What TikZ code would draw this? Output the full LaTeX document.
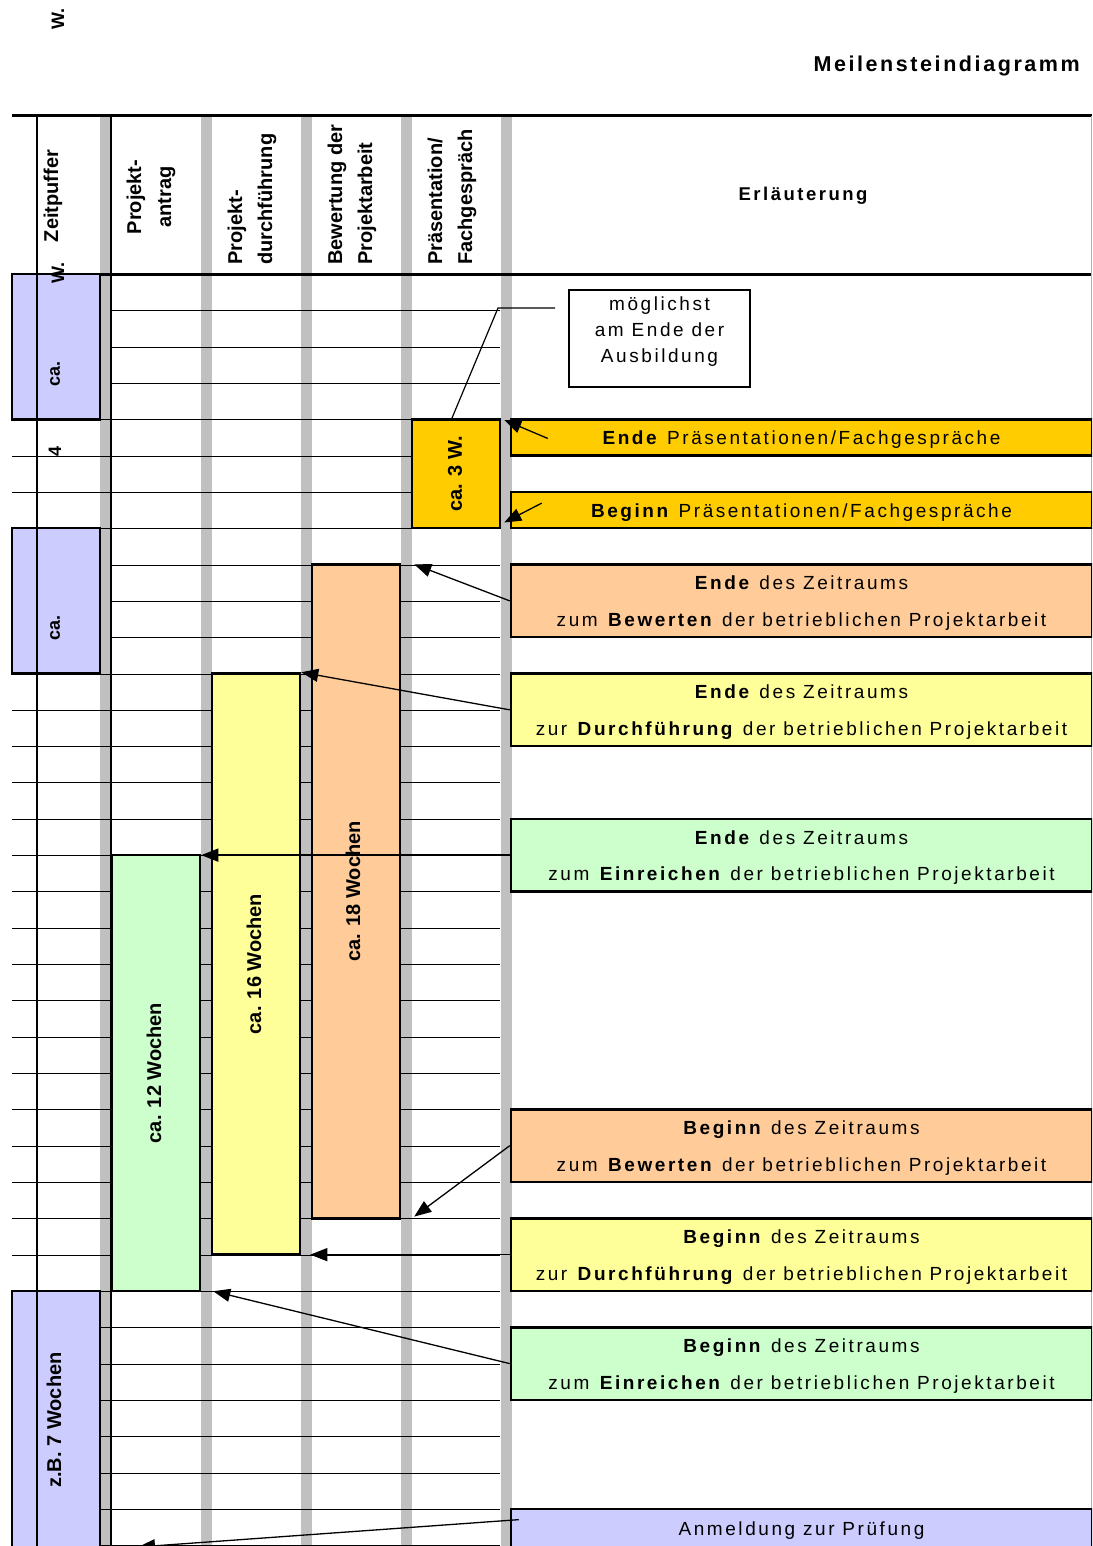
\documentclass[tikz,border=0pt]{standalone}
\usepackage{fontspec}
\setmainfont{Liberation Sans}
\newfontfamily\spacedfont[LetterSpace=13.5]{Liberation Sans}
\newfontfamily\titlefont[LetterSpace=12]{Liberation Sans}
\usetikzlibrary{arrows.meta,calc}
\definecolor{cblue}{HTML}{CCCCFF}
\definecolor{cgold}{HTML}{FFCC00}
\definecolor{corange}{HTML}{FFCC99}
\definecolor{cyellow}{HTML}{FFFF99}
\definecolor{cgreen}{HTML}{CCFFCC}
\definecolor{cgray}{HTML}{C0C0C0}
\begin{document}
\begin{tikzpicture}[x=1pt,y=-1pt,
  gridline/.style={line width=1.3pt},
  barbox/.style={draw, line width=2.5pt, inner sep=0pt, minimum width=88pt},
  barlabel/.style={rotate=90, inner sep=0pt, font=\bfseries\fontsize{20}{24}\selectfont},
  smalllabel/.style={rotate=90, inner sep=0pt, font=\bfseries\fontsize{18}{20}\selectfont},
  head/.style={rotate=90, inner sep=0pt, font=\bfseries\fontsize{20}{30}\selectfont},
  rbox/.style={draw, line width=2.5pt, minimum width=581pt, inner sep=0pt, align=center,
    font=\spacedfont\fontsize{19}{36.32}\selectfont},
  twoline/.style={rbox, minimum height=72.64pt},
  rtext/.style={inner sep=0pt, align=center, font=\spacedfont\fontsize{19}{26}\selectfont},
  arr/.style={line width=1.3pt, -{Triangle[length=17pt,width=13pt]}}
]
\useasboundingbox (0,0) rectangle (1092,1546);
\clip (0,0) rectangle (1092,1546);

% gray separator bars
\fill[cgray] (100,116) rectangle (110.5,1546);
\fill[cgray] (200.5,116) rectangle (212,1546);
\fill[cgray] (300.5,116) rectangle (312,1546);
\fill[cgray] (400.5,116) rectangle (412,1546);
\fill[cgray] (500.5,116) rectangle (512,1546);

% grid lines
\foreach \k in {1,2,3,8,9,10}{
  \pgfmathsetmacro\yy{round(274+\k*36.32)+0.5}
  \draw[gridline] (111,\yy) -- (500,\yy);}
\foreach \k in {4,5,6,7,11,12,...,35}{
  \pgfmathsetmacro\yy{round(274+\k*36.32)+0.5}
  \draw[gridline] (12,\yy) -- (500,\yy);}

% header frame
\draw[line width=3pt] (12,116) -- (1092,116);
\draw[line width=3pt] (12,274) -- (1092,274);
\draw[line width=1pt, gray!60] (1091.5,116) -- (1091.5,1546);
\draw[line width=2.6pt] (111,116) -- (111,1546);

% bars
\node[barbox, fill=cgold, minimum height=108.96pt] (ca3w) at (456,473.76) {};
\node[barbox, fill=corange, minimum height=653.76pt] (orange) at (356,891.44) {};
\node[barbox, fill=cyellow, minimum height=581.12pt] (yellow) at (256,964.08) {};
\node[barbox, fill=cgreen, minimum width=88.5pt, minimum height=435.84pt] (green) at (155.75,1073.04) {};

% buffer boxes
\node[barbox, fill=cblue, minimum height=145.28pt] (blueA) at (56,346.64) {};
\node[barbox, fill=cblue, minimum height=145.28pt] (blueB) at (56,600.88) {};
\node[barbox, fill=cblue, minimum height=320pt] (blueC) at (56,1450.96) {};

% thin line of the buffer column
\draw[line width=1.2pt] (37,116) -- (37,1546);

% bar labels
\node[barlabel] (lab3w) at (455,474) {ca. 3 W.};
\node[barlabel] (lab18) at (353,891.5) {ca. 18 Wochen};
\node[barlabel] (lab16) at (254,964) {ca. 16 Wochen};
\node[barlabel] (lab12) at (154,1073) {ca. 12 Wochen};
\node[barlabel] (lab7) at (54,1420) {z.B. 7 Wochen};

% buffer fragments
\node[smalllabel] (wtop) at (58,19) {W.};
\node[smalllabel] (wA) at (58,273) {W.};
\node[smalllabel] (caA) at (55,374) {ca.};
\node[smalllabel] (four) at (55,451) {4};
\node[smalllabel] (caB) at (55,628) {ca.};

% header
\node[head] (hzp) at (53,196) {Zeitpuffer};
\node[head, align=center] (h1) at (151,197) {Projekt-\\antrag};
\node[head, align=left, anchor=west] (h2) at (252,265) {Projekt-\\durchführung};
\node[head, align=left, anchor=west] (h3) at (352,265) {Bewertung der\\Projektarbeit};
\node[head, align=left, anchor=west] (h4) at (452,265) {Präsentation/\\Fachgespräch};
\node[inner sep=0pt, font=\spacedfont\bfseries\fontsize{18.5}{20}\selectfont] (erl) at (803,196) {Erläuterung};
\node[inner sep=0pt, anchor=east, font=\titlefont\bfseries\fontsize{21.5}{22}\selectfont] (title) at (1080,66) {Meilensteindiagramm};

% note
\node[draw, line width=1.2pt, minimum width=181pt, minimum height=97pt, inner sep=0pt] (note) at (659.5,338.5) {};
\node[rtext, yshift=-2pt] (notetext) at (659.5,330) {möglichst\\am Ende der\\Ausbildung};
\coordinate (calloutA) at (555,308);
\coordinate (calloutB) at (498,308);
\draw[line width=1.2pt] (calloutA) -- (calloutB) -- ($(ca3w.north)+(-4,0)$);

% explanation boxes
\node[rbox, fill=cgold, minimum height=36.32pt] (endpraes) at (801.5,437.44) {\strut\textbf{Ende} Präsentationen/Fachgespräche};
\node[rbox, fill=cgold, minimum height=36.32pt] (beginnpraes) at (801.5,510.08) {\strut\textbf{Beginn} Präsentationen/Fachgespräche};
\node[twoline, fill=corange] (endbew) at (801.5,600.88) {\strut\textbf{Ende} des Zeitraums\\\strut zum \textbf{Bewerten} der betrieblichen Projektarbeit};
\node[twoline, fill=cyellow] (enddurch) at (801.5,709.84) {\strut\textbf{Ende} des Zeitraums\\\strut zur \textbf{Durchführung} der betrieblichen Projektarbeit};
\node[twoline, fill=cgreen] (endein) at (801.5,855.12) {\strut\textbf{Ende} des Zeitraums\\\strut zum \textbf{Einreichen} der betrieblichen Projektarbeit};
\node[twoline, fill=corange] (beginnbew) at (801.5,1145.68) {\strut\textbf{Beginn} des Zeitraums\\\strut zum \textbf{Bewerten} der betrieblichen Projektarbeit};
\node[twoline, fill=cyellow] (beginndurch) at (801.5,1254.64) {\strut\textbf{Beginn} des Zeitraums\\\strut zur \textbf{Durchführung} der betrieblichen Projektarbeit};
\node[twoline, fill=cgreen] (beginnein) at (801.5,1363.6) {\strut\textbf{Beginn} des Zeitraums\\\strut zum \textbf{Einreichen} der betrieblichen Projektarbeit};
\node[rbox, fill=cblue, minimum height=72.64pt] (anmeldung) at (801.5,1545.2) {};
\node[rtext] (anmtext) at (801.5,1531) {Anmeldung zur Prüfung};

% arrows
\coordinate (anmtip) at (138,1547);
\draw[arr] ($(endpraes.west)+(38,1)$) -- ($(ca3w.north east)+(3,2)$);
\draw[arr] ($(beginnpraes.west)+(32,-7)$) -- ($(ca3w.south east)+(3,-7)$);
\draw[arr] (endbew.west) -- ($(orange.north east)+(13,1)$);
\draw[arr] (enddurch.west) -- (yellow.north east);
\draw[arr] (endein.west) -- (endein.west -| green.east);
\draw[arr] (beginnbew.west) -- ($(orange.south east)+(13,-3)$);
\draw[arr] (beginndurch.west) -- ($(beginndurch.west -| yellow.east)+(9,0)$);
\draw[arr] (beginnein.west) -- ($(green.south east)+(12,-1)$);
\draw[arr] ($(anmeldung.north west)+(9,12)$) -- (anmtip);
\end{tikzpicture}
\end{document}
